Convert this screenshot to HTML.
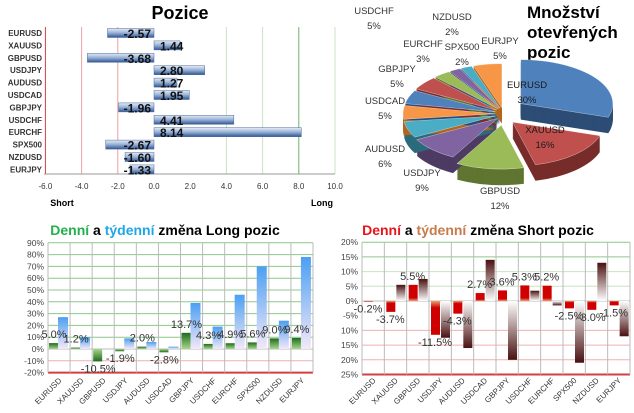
<!DOCTYPE html>
<html><head><meta charset="utf-8"><style>
html,body{margin:0;padding:0;background:#fff;}
svg{display:block;font-family:"Liberation Sans",sans-serif;}
</style></head><body>
<svg id="root" width="634" height="413" viewBox="0 0 634 413" xmlns="http://www.w3.org/2000/svg">
<defs>
<linearGradient id="gBlueH" x1="0" y1="0" x2="0" y2="1"><stop offset="0" stop-color="#e4ecf7"/><stop offset="0.45" stop-color="#9fb6d8"/><stop offset="1" stop-color="#2f5597"/></linearGradient>
<linearGradient id="gWeekL" x1="0" y1="0" x2="0" y2="1"><stop offset="0" stop-color="#4b9ff2"/><stop offset="1" stop-color="#f3e9f8"/></linearGradient>
<linearGradient id="gDayL" x1="0" y1="0" x2="0" y2="1"><stop offset="0" stop-color="#1e6b1e"/><stop offset="1" stop-color="#a6d68a"/></linearGradient>
<linearGradient id="gDayLn" x1="0" y1="1" x2="0" y2="0"><stop offset="0" stop-color="#1e6b1e"/><stop offset="1" stop-color="#a6d68a"/></linearGradient>
<linearGradient id="gWeekSp" x1="0" y1="0" x2="0" y2="1"><stop offset="0" stop-color="#4a1010"/><stop offset="1" stop-color="#ffffff"/></linearGradient>
<linearGradient id="gWeekSn" x1="0" y1="1" x2="0" y2="0"><stop offset="0" stop-color="#4a1010"/><stop offset="1" stop-color="#ffffff"/></linearGradient>
<linearGradient id="gDayS" x1="0" y1="0" x2="0" y2="1"><stop offset="0" stop-color="#d00000"/><stop offset="0.8" stop-color="#d00000"/><stop offset="1" stop-color="#e8a070"/></linearGradient>
<linearGradient id="gDaySn" x1="0" y1="1" x2="0" y2="0"><stop offset="0" stop-color="#d00000"/><stop offset="0.8" stop-color="#d00000"/><stop offset="1" stop-color="#e8a070"/></linearGradient>
</defs>
<text x="180" y="19" text-anchor="middle" font-size="18" font-weight="bold">Pozice</text>
<text x="527" y="18" font-size="17" font-weight="bold">Množství</text>
<text x="527" y="38" font-size="17" font-weight="bold">otevřených</text>
<text x="527" y="58" font-size="17" font-weight="bold">pozic</text>
<text x="165" y="235" text-anchor="middle" font-size="14" font-weight="bold"><tspan fill="#22b04c">Denní</tspan> a <tspan fill="#1ea7e8">týdenní</tspan> změna Long pozic</text>
<text x="478" y="235" text-anchor="middle" font-size="14" font-weight="bold"><tspan fill="#e8141c">Denní</tspan> a <tspan fill="#c87a4a">týdenní</tspan> změna Short pozic</text>
<text x="62" y="206" text-anchor="middle" font-size="9" font-weight="bold">Short</text>
<text x="322" y="206" text-anchor="middle" font-size="9" font-weight="bold">Long</text>
<g id="g1"></g><g id="g2"></g><g id="g3"></g><g id="g4"></g>
</svg>
<script>
const NS="http://www.w3.org/2000/svg";
// ---- Positions chart ----
const posCats=["EURUSD","XAUUSD","GBPUSD","USDJPY","AUDUSD","USDCAD","GBPJPY","USDCHF","EURCHF","SPX500","NZDUSD","EURJPY"];
const posVals=[-2.57,1.44,-3.68,2.80,1.27,1.95,-1.96,4.41,8.14,-2.67,-1.60,-1.33];
const posTicks=[-6,-4,-2,0,2,4,6,8,10];
// ---- Pie ----
const pieLabels=["EURUSD","XAUUSD","GBPUSD","USDJPY","AUDUSD","USDCAD","GBPJPY","USDCHF","EURCHF","SPX500","NZDUSD","EURJPY"];
const pieValues=[30,16,12,9,6,5,5,5,3,2,2,5];
// ---- Long changes ----
const longCats=["EURUSD","XAUUSD","GBPUSD","USDJPY","AUDUSD","USDCAD","GBPJPY","USDCHF","EURCHF","SPX500","NZDUSD","EURJPY"];
const longDaily=[5.0,1.2,-10.5,-1.9,2.0,-2.8,13.7,4.3,4.9,5.6,9.0,9.4];
const longWeekly=[27,10,0,9,6,2,39,19,46,70,24,78];
const longTicks=[90,80,70,60,50,40,30,20,10,0,-10,-20];
// ---- Short changes ----
const shortCats=["EURUSD","XAUUSD","GBPUSD","USDJPY","AUDUSD","USDCAD","GBPJPY","USDCHF","EURCHF","SPX500","NZDUSD","EURJPY"];
const shortDaily=[-0.2,-3.7,5.5,-11.5,-4.3,2.7,3.6,5.3,5.2,-2.5,-3.0,-1.5];
const shortWeekly=[0,5.5,7.5,-12.5,-16,14,-20,3.5,-1.5,-21,13,-12];
const shortTicks=[20,15,10,5,0,-5,-10,-15,-20,-25];
const shortTickLabels=["20%","15%","10%","5%","0%","-5%","10%","15%","20%","25%"];

// layout only (label anchor positions for pie text)
const pieLabelLayout=[[527,88],[545,133],[500,194],[422,176],[385,152],[385,104],[397,72],[374,14],[423,47],[462,50],[452,20],[500,44]];

function mk(tag,attrs,parent){const e=document.createElementNS(NS,tag);for(const k in attrs)e.setAttribute(k,attrs[k]);parent.appendChild(e);return e;}

(function(){
 const g=document.getElementById('g1');
 const x=v=>154+v*18.1, rowY=i=>33+i*12.4;
 posTicks.forEach(t=>{
  const col=t<0?(t===-6?"#d04040":"#f0a0a0"):(t>0?(t===8?"#70b070":"#c8e4c0"):null);
  if(col&&t!==2){const l=mk('line',{x1:x(t),x2:x(t),y1:27,y2:174,stroke:col,'stroke-width':1},g);
  
  }
  const tx=mk('text',{x:x(t),y:189,'text-anchor':'middle','font-size':8,fill:'#333'},g);tx.textContent=t.toFixed(1);
  
  
 });
 const ax=mk('line',{x1:44,x2:x(10),y1:174,y2:174,stroke:'#999'},g);
 
 
 posCats.forEach((c,i)=>{
  const y=rowY(i),v=posVals[i];
  const t=mk('text',{x:42,y:y+3,'text-anchor':'end','font-size':8,'font-weight':'bold',fill:'#333'},g);t.textContent=c;
  
  
  const b=mk('rect',{x:Math.min(x(0),x(v)),y:y-4.5,width:Math.abs(x(v)-x(0)),height:9,fill:'url(#gBlueH)',stroke:'#4a6a9a','stroke-width':0.5},g);
  
  
  const vt=mk('text',{x:v<0?151:160,y:y+5,'text-anchor':v<0?'end':'start','font-size':12,'font-weight':'bold',fill:'#111'},g);vt.textContent=v.toFixed(2);
  
  
 });
})();

(function(){
 const g=document.getElementById('g2');
 const cx=503,cy=114,rx=92,ry=44,depth=16;
 const cols=["#4f81bd","#c0504d","#9bbb59","#8064a2","#4bacc6","#f79646","#4f81bd","#c0504d","#9bbb59","#8064a2","#4bacc6","#f79646"];
 const dark=["#2c4d75","#772c2a","#5f7530","#4d3b63","#2c6b7c","#b3651f","#2c4d75","#772c2a","#5f7530","#4d3b63","#2c6b7c","#b3651f"];
 const total=pieValues.reduce((a,b)=>a+b,0);
 let a=-Math.PI/2;const sl=[];
 pieValues.forEach((v,i)=>{const a0=a,a1=a+v/total*2*Math.PI;a=a1;const m=(a0+a1)/2;const ex=i===0?22:(i<3?14:8);sl.push({a0,a1,m,dx:Math.cos(m)*ex,dy:Math.sin(m)*ex*0.8});});
 function path(s,off){const ox=cx+s.dx,oy=cy+s.dy+off;const large=(s.a1-s.a0)>Math.PI?1:0;
  return `M${ox},${oy}L${ox+rx*Math.cos(s.a0)},${oy+ry*Math.sin(s.a0)}A${rx},${ry} 0 ${large} 1 ${ox+rx*Math.cos(s.a1)},${oy+ry*Math.sin(s.a1)}Z`;}
 sl.forEach((s,i)=>{for(let d=depth;d>0;d-=1){const p=mk('path',{d:path(s,d),fill:dark[i]},g);
  
  }});
 sl.forEach((s,i)=>{const p=mk('path',{d:path(s,0),fill:cols[i],stroke:'#fff','stroke-width':0.3},g);
  
  
  const lx=pieLabelLayout[i][0],ly=pieLabelLayout[i][1];
  const col=i<2?'#1a1a1a':'#333';
  const t1=mk('text',{x:lx,y:ly,'text-anchor':'middle','font-size':9.5,fill:col},g);t1.textContent=pieLabels[i];
  
  
  const t2=mk('text',{x:lx,y:ly+15,'text-anchor':'middle','font-size':9.5,fill:col},g);t2.textContent=pieValues[i]+'%';
  
  
 });
})();

(function(){
 const g=document.getElementById('g3');
 const L=48,R=313,y=v=>349-v*1.18,cw=(R-L)/12;
 longTicks.forEach(t=>{
  const col=t===-20?'#d04040':(t<0?'#f0b0b0':(t===0?'#bbb':'#8cc88c'));
  const l=mk('line',{x1:L,x2:R,y1:y(t),y2:y(t),stroke:col,'stroke-width':t===-20?2:1},g);
  
  
  const tx=mk('text',{x:44,y:y(t)+3,'text-anchor':'end','font-size':8.5,fill:'#444'},g);tx.textContent=t+'%';
  
  
 });
 for(let i=0;i<=12;i++){const l=mk('line',{x1:L+i*cw,x2:L+i*cw,y1:y(90),y2:y(-20),stroke:'#bbb'},g);
  
  }
 longCats.forEach((c,i)=>{
  const x0=L+i*cw;const d=longDaily[i],w=longWeekly[i];
  const wb=mk('rect',{x:x0+10,y:Math.min(y(0),y(w)),width:10,height:Math.abs(y(w)-y(0)),fill:'url(#gWeekL)'},g);
  
  
  const db=mk('rect',{x:x0+1,y:Math.min(y(0),y(d)),width:9,height:Math.abs(y(d)-y(0)),fill:d>=0?'url(#gDayL)':'url(#gDayLn)'},g);
  
  
  const vt=mk('text',{x:x0+6,y:d>=0?y(d)-5:y(d)+11,'text-anchor':'middle','font-size':11,fill:'#333'},g);vt.textContent=d.toFixed(1)+'%';
  
  
  const ct=mk('text',{x:x0+cw/2+3,y:381,'text-anchor':'end','font-size':8,fill:'#333',transform:`rotate(-45 ${x0+cw/2+3} 381)`},g);ct.textContent=c;
  
  
 });
})();

(function(){
 const g=document.getElementById('g4');
 const L=362,R=630,y=v=>301-v*2.94,cw=(R-L)/12;
 shortTicks.forEach((t,k)=>{
  const col=t===-25?'#d04040':(t<0?'#f0b0b0':(t===0?'#bbb':(t>=15?'#8cc88c':'#c8e4c0')));
  if(t!==-5){const l=mk('line',{x1:L,x2:R,y1:y(t),y2:y(t),stroke:col,'stroke-width':t===-25?2:1},g);
  
  }
  const tx=mk('text',{x:358,y:y(t)+3,'text-anchor':'end','font-size':8.5,fill:'#444'},g);tx.textContent=shortTickLabels[k];
  
  
 });
 for(let i=0;i<=12;i++){const l=mk('line',{x1:L+i*cw,x2:L+i*cw,y1:y(20),y2:y(-25),stroke:'#bbb'},g);
  
  }
 shortCats.forEach((c,i)=>{
  const x0=L+i*cw;const d=shortDaily[i],w=shortWeekly[i];
  const wb=mk('rect',{x:x0+12,y:Math.min(y(0),y(w)),width:9,height:Math.abs(y(w)-y(0)),fill:w>=0?'url(#gWeekSp)':'url(#gWeekSn)'},g);
  
  
  const db=mk('rect',{x:x0+2,y:Math.min(y(0),y(d)),width:9,height:Math.abs(y(d)-y(0)),fill:d>=0?'url(#gDayS)':'url(#gDaySn)'},g);
  
  
  const vt=mk('text',{x:x0+6,y:d>=0?y(d)-5:y(d)+11,'text-anchor':'middle','font-size':11,fill:'#333'},g);vt.textContent=d.toFixed(1)+'%';
  
  
  const ct=mk('text',{x:x0+cw/2+3,y:381,'text-anchor':'end','font-size':8,fill:'#333',transform:`rotate(-45 ${x0+cw/2+3} 381)`},g);ct.textContent=c;
  
  
 });
})();
</script>
</body></html>
